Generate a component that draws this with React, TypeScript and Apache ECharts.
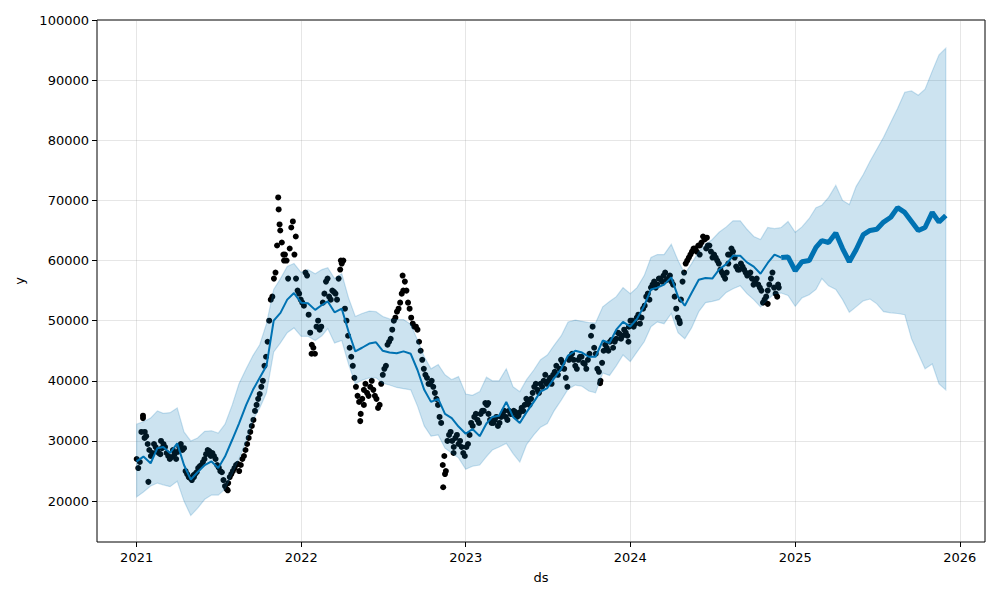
import React, { useEffect, useRef } from "react";
import * as echarts from "echarts";

// Observed values, one reading per week starting 2021-01-01
const obsStart = "2021-01-01";
const obsWeekly = [
  27000, 26500, 34200, 30800, 28500, 28000, 29000, 28000, 28800, 29000,
  27500, 27300, 27800, 28200, 29500, 28800, 24500, 23800, 24300, 24800,
  25800, 26500, 27800, 28300, 28000, 27000, 25600, 24800, 22500, 23000,
  24500, 25500, 26200, 26000, 27500, 29500, 31500, 33500, 36000, 37800,
  40000, 44000, 50000, 54000, 58000, 68500, 63000, 61000, 57000, 65500,
  61000, 55000, 53500, 52500, 57500, 48000, 45500, 49000, 48500, 53000,
  56500, 54000, 55000, 54500, 57000, 59500, 52000, 47500, 44000, 40500,
  37500, 34500, 38500, 38000, 39000, 38500, 37000, 36000, 41000, 42500,
  46500, 48500, 50500, 52000, 54500, 56500, 53000, 50500, 49000, 48500,
  45000, 42000, 40500, 39500, 39000, 37000, 34000, 26000, 25000, 31000,
  30000, 30500, 29500, 29000, 27500, 29500, 33000, 34000, 33500, 34500,
  35000, 36000, 33500, 33000, 34000, 33000, 34500, 34000, 35000, 34500,
  34800, 34200, 35500, 36000, 36500, 37000, 39000, 38500, 39500, 40000,
  39500, 40500, 41000, 42500, 42000, 43000, 40500, 43500, 44500, 42500,
  43500, 44000, 42800, 43500, 47500, 45500, 42000, 40000, 45000, 45500,
  46500, 45500, 47000, 47800, 47500, 48000, 49000, 50000, 49500, 51000,
  50500, 52500, 54500, 55500, 56500, 56000, 57000, 57500, 56800, 57500,
  56000, 52000, 50000, 56500, 59500, 60500, 61500, 62000, 62500, 63000,
  63500, 62500, 61500, 61000, 60000, 58500, 57500, 58000, 61000, 61500,
  59000, 58500, 59000, 58000, 57800, 57000, 56500, 56000, 55000, 53500,
  55000, 57000, 55500, 54000,
];
// Observed values read half a week later than each weekly reading above
const obsMidweek = [
  25500, 31500, 30500, 29500, 27500, 29500, 28500, 27800, 29500, 28000,
  27000, 28500, 27000, 29000, 28500, 25000, 24000, 23500, 24500, 25500,
  26000, 27000, 28500, 27500, 27500, 26000, 25000, 23500, 22000, 24000,
  25000, 26000, 25000, 27000, 28500, 30500, 32500, 35000, 37000, 39000,
  42500, 46500, 53500, 57000, 62500, 65000, 61000, 60000, 62000, 66500,
  57000, 54500, 53000, 58000, 51000, 46000, 44500, 50000, 49000, 54500,
  57000, 53500, 54800, 53500, 58500, 60000, 50000, 45500, 42500, 39000,
  36500, 37000, 39500, 37500, 40000, 37500, 35500, 39500, 42000, 46000,
  47000, 50000, 51500, 53000, 55000, 55000, 52000, 49500, 49000, 46500,
  43500, 41000, 39500, 40000, 38000, 36000, 33000, 27500, 30000, 31500,
  29000, 31000, 30000, 28000, 29000, 31000, 32500, 34500, 33000, 35000,
  36300, 34500, 33000, 33500, 32500, 34000, 35000, 33500, 34500, 35000,
  34000, 34800, 35000, 37000, 36000, 38000, 39500, 38000, 39000, 41000,
  40000, 39500, 41500, 41000, 43500, 42000, 39000, 44000, 43500, 42000,
  44000, 43000, 42000, 44500, 49000, 44500, 41500, 43000, 46000, 45000,
  46800, 46500, 48000, 47000, 48500, 47500, 50000, 49000, 50500, 49500,
  52000, 54000, 53500, 56000, 55500, 57000, 56500, 58000, 57000, 56500,
  54000, 50500, 53500, 58000, 60000, 61000, 62000, 61500, 62500, 64000,
  62000, 62500, 60500, 60500, 59500, 58000, 57000, 59500, 62000, 60500,
  58500, 59500, 58500, 57500, 58000, 56000, 57000, 55500, 53000, 54000,
  56000, 58000, 54500, 55500,
];
// Extra observed readings (extremes within dense weeks)
const obsExtraDates = [
  "2021-01-15", "2021-01-19", "2021-01-27", "2021-02-24", "2021-05-08",
  "2021-07-22", "2021-11-11", "2021-11-14", "2021-11-24", "2021-12-20",
  "2022-01-24", "2022-03-30", "2022-05-12", "2022-05-20", "2022-08-14",
  "2022-11-12", "2022-11-16", "2022-12-05", "2023-02-20", "2023-10-26",
  "2023-12-28", "2024-04-20", "2024-06-19", "2024-06-03", "2024-08-05",
  "2024-11-01", "2024-11-24",
];
const obsExtraValues = [
  33800, 31500, 23200, 30000, 24000,
  21800, 70500, 66000, 60000, 64000,
  44500, 60000, 33300, 36000, 57500,
  22300, 24500, 28000, 36300, 39600,
  46500, 49600, 63800, 61000, 61000,
  52800, 56000,
];

// Forecast, read on the 1st and 16th of each month, 2021-01-01 .. 2025-12-01
const yhat = [
  26600, 27400, 26300, 28800, 29000, 28000, 29600, 26000, 23600, 24800, 26000, 26600,
  25500, 27400, 30200, 32900, 36000, 38500, 40500, 42500, 50000, 51300, 53500, 54600,
  53000, 52900, 51800, 52600, 53200, 51400, 52000, 48200, 44900, 45500, 46200, 46400,
  45000, 44700, 44600, 44900, 44500, 41800, 38500, 36500, 37000, 34500, 33800, 32400,
  31200, 32000, 30800, 32900, 34000, 34200, 36500, 34000, 33000, 34800, 36500, 38200,
  38800, 40400, 42000, 44200, 45000, 44700, 44000, 44000, 46700, 46300, 48500, 49800,
  49000, 50300, 52500, 55200, 55500, 56000, 57200, 54000, 52500, 54600, 56800, 57100,
  57000, 58500, 59400, 60800, 60800, 59700, 59000, 57800, 59600, 61000, 60500, 60600,
  58300, 59800, 60000, 62200, 63300, 63000, 64600, 62000, 59800, 61800, 64300, 65000,
  65200, 66400, 67200, 68800, 68000, 66500, 65000, 65500, 68000, 66400, 67500,
];
const yhatUpper = [
  32800, 33200, 33800, 35000, 34600, 34700, 35500, 31500, 30000, 30500, 31600, 31700,
  31300, 32800, 36000, 39500, 42000, 44200, 46000, 49500, 55200, 57000, 59000, 59500,
  58000, 58500, 57800, 58500, 58800, 57000, 57800, 53800, 50700, 51200, 51600, 51500,
  50700, 50300, 50200, 50200, 49400, 46800, 44000, 42000, 42700, 41000, 40200, 40700,
  37800, 37600, 38200, 40600, 40000, 40000, 42000, 39000, 38200, 40200, 41800, 43500,
  44300, 45900, 47500, 49800, 50100, 49900, 49700, 49600, 52300, 53200, 54000, 55500,
  54500, 55500, 57500, 60500, 61000, 61000, 62700, 60000, 57800, 59500, 61500, 62700,
  63500, 64700, 65600, 66600, 66600, 65200, 64000, 63500, 65500, 65300, 65500, 66500,
  64700, 65600, 67000, 68800, 69200, 70500, 72500, 70000, 69300, 72300, 74300, 76500,
  78500, 80500, 83000, 85300, 88000, 88200, 87500, 88500, 91500, 94200, 95300,
];
const yhatLower = [
  20700, 21500, 22500, 23000, 22700, 22400, 23300, 20000, 17600, 18800, 20300, 21000,
  21000, 22000, 24500, 27000, 30000, 33500, 35500, 38000, 44800, 46300, 48000, 48800,
  47400, 47400, 46700, 47500, 48700, 46300, 46700, 42800, 39500, 40100, 40500, 40500,
  39600, 39300, 38900, 38700, 38500, 35800, 32500, 30800, 31000, 28800, 28000, 27200,
  25300, 25800, 26000, 27400, 28500, 29000, 29600, 27900, 26500, 29400, 31000, 32300,
  32900, 35000, 36800, 38600, 39300, 39100, 38300, 38000, 41300, 40900, 42500, 44300,
  43200, 44800, 46500, 49000, 49800, 49500, 51200, 48000, 47000, 48800, 51500, 53000,
  53200, 53500, 54700, 55300, 55800, 54500, 53500, 52300, 53500, 54500, 54600, 54200,
  52400, 53800, 54300, 55200, 57000, 55800, 55200, 53500, 51400, 52300, 53300, 53600,
  52800, 51500, 51300, 51200, 51000, 47000, 44500, 42000, 42800, 39500, 38500,
];
const lastHistoryDate = "2024-12-01";

const yTicks = [20000, 30000, 40000, 50000, 60000, 70000, 80000, 90000, 100000];
const xTickYears = [2021, 2022, 2023, 2024, 2025, 2026];

function fcDates(): string[] {
  const out: string[] = [];
  for (let y = 2021; y <= 2025; y++) {
    for (let m = 1; m <= 12; m++) {
      for (const d of [1, 16]) {
        const s = `${y}-${String(m).padStart(2, "0")}-${String(d).padStart(2, "0")}`;
        if (s <= "2025-12-01") out.push(s);
      }
    }
  }
  return out;
}

function ts(s: string): number {
  return Date.UTC(+s.slice(0, 4), +s.slice(5, 7) - 1, +s.slice(8, 10));
}

export default function App() {
  const ref = useRef<HTMLDivElement>(null);
  useEffect(() => {
    if (!ref.current) return;
    const chart = echarts.init(ref.current, null, { renderer: "svg" });
    const dates = fcDates();
    const day = 86400000;
    const t0 = ts(obsStart);
    const obs = obsWeekly.map((v, i) => [t0 + i * 7 * day, v]);
    const obsMid = obsMidweek.map((v, i) => [t0 + (i * 7 + 3.5) * day, v]);
    const extra = obsExtraDates.map((d, i) => [ts(d), obsExtraValues[i]]);
    const split = dates.indexOf(lastHistoryDate);
    const yh = dates.map((d, i) => [ts(d), yhat[i]]);
    const band = dates.map((d, i) => [ts(d), yhatLower[i], yhatUpper[i]]);
    const font = "DejaVu Sans";
    const yearTs = xTickYears.map((y) => Date.UTC(y, 0, 1));
    const bandFill = "rgba(0,114,178,0.2)";
    const grid = "rgba(128,128,128,0.2)";
    const dotSeries = (data: number[][]) => ({
      type: "scatter",
      data,
      symbol: "circle",
      symbolSize: 6,
      itemStyle: { color: "#000", opacity: 1 },
      z: 2,
    });
    chart.setOption({
      animation: false,
      grid: {
        left: 97,
        right: 15,
        top: 20,
        bottom: 58,
        show: true,
        borderColor: "#000",
        borderWidth: 1,
        backgroundColor: "transparent",
      },
      xAxis: {
        type: "value",
        min: Date.UTC(2020, 9, 5),
        max: Date.UTC(2026, 1, 26),
        name: "ds",
        nameLocation: "middle",
        nameGap: 29,
        nameTextStyle: { color: "#000", fontFamily: font, fontSize: 13 },
        axisLine: { show: false },
        axisTick: {
          show: true,
          length: 5,
          lineStyle: { color: "#000" },
          customValues: yearTs,
        },
        axisLabel: {
          color: "#000",
          fontFamily: font,
          fontSize: 13,
          margin: 9,
          customValues: yearTs,
          formatter: (v: number) => String(new Date(v).getUTCFullYear()),
        },
        splitLine: { show: true, lineStyle: { color: grid, width: 1 } },
      },
      yAxis: {
        type: "value",
        min: 13200,
        max: 100000,
        name: "y",
        nameLocation: "middle",
        nameGap: 71,
        nameRotate: 90,
        nameTextStyle: { color: "#000", fontFamily: font, fontSize: 13 },
        axisLine: { show: false },
        axisTick: {
          show: true,
          length: 5,
          lineStyle: { color: "#000" },
          customValues: yTicks,
        },
        axisLabel: {
          color: "#000",
          fontFamily: font,
          fontSize: 13,
          margin: 8,
          customValues: yTicks,
          formatter: (v: number) => String(v),
        },
        splitLine: { show: true, lineStyle: { color: grid, width: 1 } },
      },
      series: [
        dotSeries(obs),
        dotSeries(obsMid),
        dotSeries(extra),
        {
          type: "line",
          data: yh.slice(0, split + 1),
          showSymbol: false,
          lineStyle: { color: "#0072B2", width: 2 },
          z: 3,
        },
        {
          type: "line",
          data: yh.slice(split),
          showSymbol: false,
          lineStyle: { color: "#0072B2", width: 5 },
          z: 3,
        },
        {
          type: "custom",
          data: band,
          encode: { x: 0, y: [1, 2] },
          clip: true,
          z: 4,
          renderItem: (params: any, api: any) => {
            if (params.dataIndex !== 0) return null;
            const up = band.map((p) => api.coord([p[0], p[2]]));
            const lo = band.map((p) => api.coord([p[0], p[1]])).reverse();
            return {
              type: "polygon",
              shape: { points: up.concat(lo) },
              style: { fill: bandFill, stroke: bandFill, lineWidth: 1.2 },
            };
          },
        },
      ],
    });
    return () => chart.dispose();
  }, []);
  return (
    <div
      ref={ref}
      style={{ position: "fixed", left: 0, top: 0, width: 1000, height: 600, background: "#fff" }}
    />
  );
}
